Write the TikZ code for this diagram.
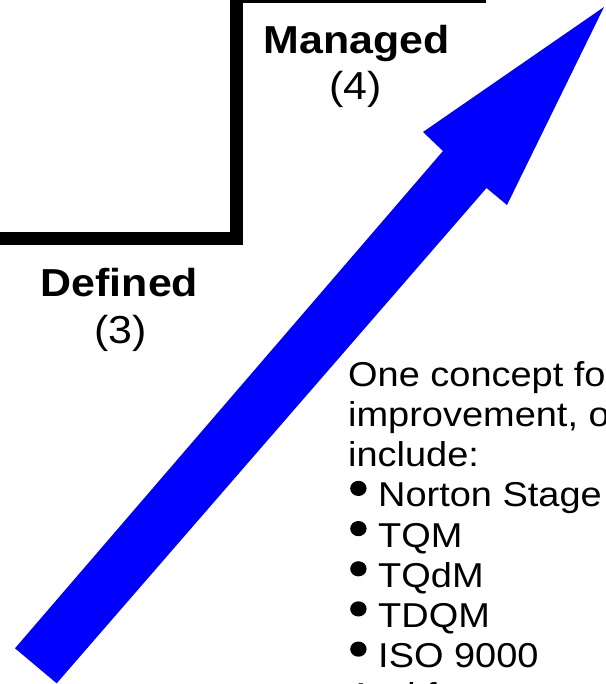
\documentclass[tikz,border=0pt]{standalone}
\usepackage{fontspec}
\setmainfont{Liberation Sans}
\usepackage{graphicx}
% slightly widened lettering used for every label
\newcommand{\widetext}[1]{\scalebox{1.1}[1]{#1}}
\begin{document}
\begin{tikzpicture}[x=1pt,y=-1pt,
  stairline/.style={line width=13pt, line join=miter, line cap=butt},
  levelname/.style={inner sep=0pt, anchor=base, font=\fontsize{39}{45}\selectfont\bfseries},
  levelnum/.style={inner sep=0pt, anchor=base, font=\fontsize{39}{45}\selectfont},
  bodyline/.style={inner sep=0pt, anchor=base west, font=\fontsize{34.5}{40}\selectfont},
  bulletdot/.style={fill=black},
  bigarrow/.style={fill=blue, draw=none}
]
\useasboundingbox (0,0) rectangle (605,684);

% staircase outline
\coordinate (s0) at (-10,239);
\coordinate (s1) at (236,239);
\coordinate (s2) at (236,-3.8);
\coordinate (s3) at (486,-3.8);
\draw[stairline] (s0) -- (s1) -- (s2) -- (s3);

% level labels
\node[levelname] (managed) at (356.5,53.3) {\widetext{Managed}};
\node[levelnum] (managednum) at (355.5,100) {\widetext{(4)}};
\node[levelname] (defined) at (119.5,296.7) {\widetext{Defined}};
\node[levelnum] (definednum) at (120.5,343.3) {\widetext{(3)}};

% rising arrow
\coordinate (tailL) at (15,648.3);
\coordinate (notchL) at (443,151);
\coordinate (barbL) at (423,132);
\coordinate (tip) at (604,7);
\coordinate (barbR) at (507,205);
\coordinate (notchR) at (486.5,188);
\coordinate (tailR) at (56.7,683.3);
\fill[bigarrow] (tailL) -- (notchL) -- (barbL) -- (tip) -- (barbR) -- (notchR) -- (tailR) -- cycle;

% explanatory text
\node[bodyline] (p1) at (348,386.3) {\widetext{One concept for}};
\node[bodyline] (p2) at (348,426.5) {\widetext{improvement, o}};
\node[bodyline] (p3) at (348,466.6) {\widetext{include:}};
\node[bodyline] (i1) at (378,506.8) {\widetext{Norton Stage}};
\node[bodyline] (i2) at (378,547.0) {\widetext{TQM}};
\node[bodyline] (i3) at (378,587.2) {\widetext{TQdM}};
\node[bodyline] (i4) at (378,627.3) {\widetext{TDQM}};
\node[bodyline] (i5) at (378,667.5) {\widetext{ISO 9000}};
\node[bodyline] (p4) at (348,707.7) {\widetext{And f}};

% bullets
\foreach \by in {488.4,528.6,568.8,608.9,649.1}
  \fill[bulletdot] (358.4,\by) ellipse [x radius=8.2pt, y radius=7.6pt];
\end{tikzpicture}
\end{document}
